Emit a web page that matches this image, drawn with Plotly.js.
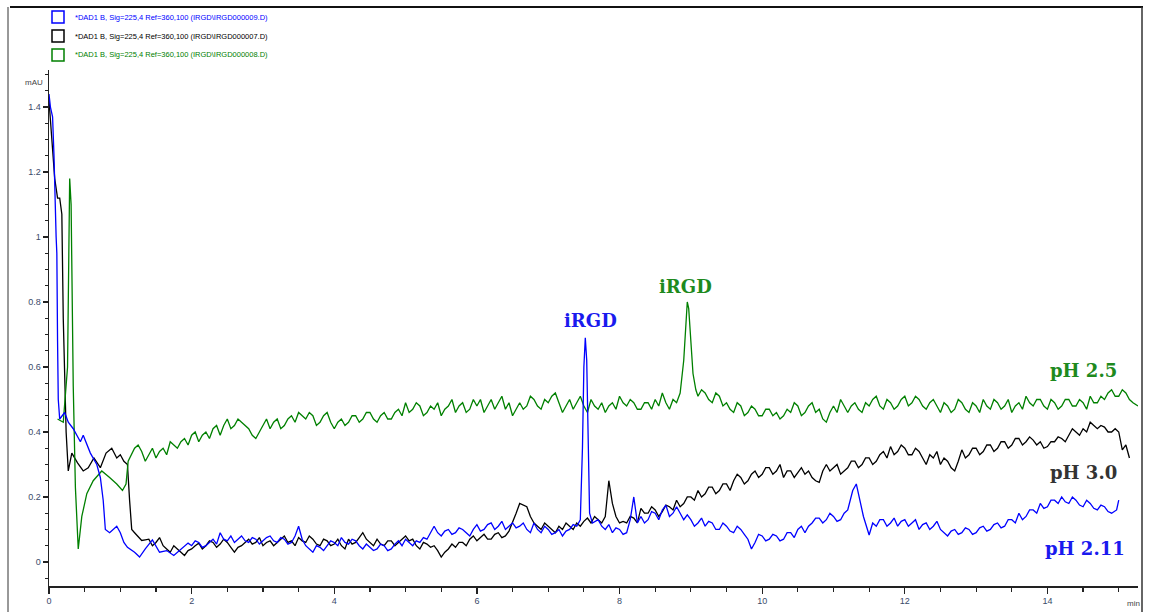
<!DOCTYPE html>
<html>
<head>
<meta charset="utf-8">
<script src="https://cdn.plot.ly/plotly-3.0.1.min.js"></script>
<style>html,body{margin:0;padding:0;background:#fff;}#chart{width:1153px;height:612px;}</style>
</head>
<body>
<div id="chart"></div>
<script>
// ---------- DATA ----------
const seriesNames = [
  "*DAD1 B, Sig=225,4 Ref=360,100 (IRGD\\IRGD000009.D)",
  "*DAD1 B, Sig=225,4 Ref=360,100 (IRGD\\IRGD000007.D)",
  "*DAD1 B, Sig=225,4 Ref=360,100 (IRGD\\IRGD000008.D)"
];
const peakLabels = ["iRGD", "iRGD"];
const phLabels = ["pH 2.5", "pH 3.0", "pH 2.11"];

// pH 2.11 (blue)
const blueT = [0,0.02,0.05,0.07,0.1,0.11,0.12,0.13,0.15,0.22,0.27,0.34,0.44,0.48,0.58,0.67,0.72,0.76,0.79,0.85,0.95,1.0,1.05,1.1,1.2,1.27,1.35,1.45,1.55,1.65,1.75,1.85,1.95,
  2.0,2.05,2.1,2.15,2.2,2.25,2.3,2.35,2.4,2.45,
  2.5,2.55,2.6,2.65,2.7,2.75,2.8,2.85,2.9,2.95,
  3.0,3.05,3.1,3.15,3.2,3.25,3.3,3.35,3.4,3.45,
  3.5,3.55,3.6,3.65,3.7,3.75,3.8,3.85,3.9,3.95,
  4.0,4.05,4.1,4.15,4.2,4.25,4.3,4.35,4.4,4.45,
  4.5,4.55,4.6,4.65,4.7,4.75,4.8,4.85,4.9,4.95,
  5.0,5.05,5.1,5.15,5.2,5.25,5.3,5.35,5.4,5.45,
  5.5,5.55,5.6,5.65,5.7,5.75,5.8,5.85,5.9,5.95,
  6.0,6.05,6.1,6.15,6.2,6.25,6.3,6.35,6.4,6.45,
  6.5,6.55,6.6,6.65,6.7,6.75,6.8,6.85,6.9,6.95,
  7.0,7.05,7.1,7.15,7.2,7.25,7.3,7.35,
  7.4,
  7.45,7.48,7.5,7.52,7.54,7.56,7.58,7.62,
  7.7,7.75,7.8,7.85,7.9,7.95,8.0,8.05,8.1,
  8.15,8.2,8.25,
  8.3,8.35,8.4,8.45,8.5,8.55,8.6,8.65,8.7,8.75,
  8.8,8.85,8.9,8.95,9.0,9.05,9.1,9.15,9.2,9.25,
  9.3,9.35,9.4,9.45,9.5,9.55,9.6,9.65,9.7,9.75,
  9.8,
  9.85,
  9.9,9.95,10.0,10.05,10.1,10.15,10.2,10.25,10.3,10.35,
  10.4,10.45,10.5,10.55,10.6,10.65,10.7,10.75,10.8,10.85,
  10.9,10.95,11.0,11.05,11.1,11.15,
  11.2,
  11.27,11.32,11.36,11.42,11.5,11.55,
  11.6,11.65,11.7,11.75,11.8,11.85,11.9,11.95,12.0,12.05,
  12.1,12.15,12.2,12.25,12.3,12.35,12.4,12.45,12.5,12.55,
  12.6,12.65,12.7,12.75,12.8,12.85,12.9,12.95,13.0,13.05,
  13.1,13.15,13.2,13.25,13.3,13.35,13.4,13.45,13.5,13.55,
  13.6,13.65,13.7,13.75,13.8,13.85,13.9,13.95,14.0,14.05,
  14.1,14.15,14.2,14.25,14.3,14.35,14.4,14.45,14.5,14.55,
  14.6,14.65,14.7,14.75,14.8,14.85,
  14.9,
  14.97,15.0];
const blueY = [1.44,1.40,1.37,1.25,1.0,0.95,0.68,0.50,0.44,0.46,0.43,0.41,0.37,0.39,0.335,0.30,0.26,0.19,0.10,0.09,0.11,0.09,0.06,0.045,0.03,0.015,0.04,0.068,0.03,0.035,0.02,0.04,0.058,
  0.05,0.065,0.06,0.045,0.05,0.06,0.07,0.055,0.09,0.07,
  0.065,0.08,0.06,0.07,0.08,0.065,0.06,0.075,0.07,0.055,
  0.065,0.075,0.08,0.065,0.06,0.075,0.07,0.055,0.06,0.08,
  0.11,0.07,0.05,0.04,0.03,0.05,0.045,0.035,0.05,0.065,
  0.06,0.05,0.075,0.06,0.055,0.07,0.065,0.05,0.04,0.055,
  0.045,0.035,0.04,0.055,0.05,0.035,0.04,0.055,0.065,0.05,
  0.07,0.06,0.05,0.065,0.06,0.075,0.07,0.09,0.11,0.09,
  0.08,0.095,0.10,0.085,0.09,0.105,0.10,0.09,0.08,0.10,
  0.115,0.095,0.10,0.115,0.12,0.10,0.11,0.125,0.10,0.11,
  0.12,0.105,0.11,0.12,0.10,0.09,0.12,0.10,0.09,0.11,
  0.10,0.085,0.09,0.10,0.08,0.095,0.10,0.115,
  0.11,
  0.13,0.35,0.60,0.69,0.62,0.35,0.15,0.12,
  0.13,0.11,0.10,0.115,0.09,0.105,0.10,0.085,0.09,
  0.13,0.20,0.12,
  0.14,0.12,0.13,0.155,0.15,0.13,0.16,0.175,0.14,0.15,
  0.17,0.15,0.13,0.145,0.13,0.11,0.12,0.135,0.11,0.125,
  0.12,0.10,0.10,0.12,0.11,0.095,0.09,0.11,0.10,0.085,
  0.07,
  0.04,
  0.06,0.085,0.08,0.065,0.07,0.085,0.08,0.065,0.07,0.09,
  0.09,0.075,0.10,0.11,0.09,0.11,0.12,0.135,0.135,0.12,
  0.13,0.15,0.14,0.125,0.13,0.15,
  0.16,
  0.22,0.24,0.20,0.14,0.083,0.12,
  0.11,0.13,0.13,0.11,0.12,0.135,0.11,0.125,0.13,0.11,
  0.12,0.13,0.10,0.115,0.12,0.10,0.11,0.125,0.10,0.09,
  0.08,0.095,0.10,0.085,0.09,0.105,0.10,0.085,0.09,0.105,
  0.11,0.095,0.10,0.115,0.12,0.105,0.11,0.13,0.13,0.12,
  0.15,0.13,0.14,0.16,0.16,0.15,0.18,0.165,0.17,0.19,
  0.19,0.18,0.20,0.185,0.18,0.20,0.19,0.175,0.17,0.19,
  0.18,0.165,0.16,0.175,0.17,0.155,
  0.15,
  0.16,0.19];

// pH 3.0 (black)
const blackT = [0,0.04,0.08,0.12,0.15,0.18,0.2,0.24,0.27,0.32,0.4,0.48,0.55,0.63,0.72,0.8,0.88,0.95,1.0,1.05,1.1,1.13,1.16,1.2,1.3,
  1.35,
  1.4,1.45,1.5,1.55,1.6,1.65,1.7,1.75,1.8,1.85,
  1.9,1.95,2.0,2.05,2.1,2.15,2.2,2.25,2.3,2.35,
  2.4,2.45,2.5,2.55,2.6,2.65,2.7,2.75,2.8,2.85,
  2.9,2.95,3.0,3.05,3.1,3.15,3.2,3.25,3.3,3.35,
  3.4,3.45,3.5,3.55,3.6,3.65,3.7,3.75,3.8,3.85,
  3.9,3.95,4.0,4.05,4.1,4.15,4.2,4.25,4.3,4.35,
  4.4,4.45,4.5,4.55,4.6,4.65,4.7,4.75,4.8,4.85,
  4.9,4.95,5.0,5.05,5.1,5.15,5.2,5.25,5.3,5.35,
  5.4,5.45,5.5,5.55,5.6,5.65,5.7,5.75,5.8,5.85,
  5.9,5.95,6.0,6.05,6.1,6.15,6.2,6.25,6.3,6.35,
  6.4,6.45,6.5,
  6.55,6.6,6.65,6.7,6.75,6.8,6.85,6.9,6.95,7.0,
  7.05,7.1,7.15,7.2,7.25,7.3,7.35,7.4,7.45,7.5,
  7.55,7.6,7.65,7.7,7.75,7.8,7.85,7.9,7.95,8.0,8.05,
  8.1,8.15,8.2,8.25,8.3,8.35,8.4,8.45,8.5,8.55,
  8.6,8.65,8.7,8.75,8.8,8.85,8.9,8.95,9.0,9.05,
  9.1,9.15,9.2,9.25,9.3,9.35,9.4,9.45,9.5,9.55,
  9.6,9.65,9.7,9.75,9.8,9.85,9.9,9.95,10.0,10.05,
  10.1,10.15,10.2,10.25,10.3,10.35,10.4,10.45,10.5,10.55,
  10.6,10.65,10.7,10.75,10.8,10.85,10.9,10.95,11.0,11.05,
  11.1,11.15,11.2,11.25,11.3,11.35,11.4,11.45,11.5,11.55,
  11.6,11.65,11.7,11.75,11.8,11.85,11.9,11.95,12.0,12.05,
  12.1,12.15,12.2,12.25,12.3,12.35,12.4,12.45,12.5,12.55,
  12.6,12.65,12.7,12.75,12.8,12.85,12.9,12.95,13.0,13.05,
  13.1,13.15,13.2,13.25,13.3,13.35,13.4,13.45,13.5,13.55,
  13.6,13.65,13.7,13.75,13.8,13.85,13.9,13.95,14.0,14.05,
  14.1,14.15,14.2,14.25,14.3,14.35,14.4,14.45,14.5,14.55,
  14.6,14.65,14.7,14.75,14.8,14.85,14.9,14.95,
  15.0,15.05,15.1,15.15];
const blackY = [1.42,1.30,1.18,1.12,1.12,1.07,0.75,0.40,0.28,0.335,0.305,0.28,0.29,0.32,0.29,0.335,0.35,0.32,0.33,0.31,0.30,0.19,0.10,0.09,0.066,
  0.068,
  0.07,0.05,0.06,0.075,0.05,0.04,0.03,0.05,0.04,0.03,
  0.02,0.035,0.04,0.05,0.058,0.04,0.05,0.065,0.06,0.045,
  0.055,0.07,0.06,0.045,0.03,0.045,0.05,0.06,0.07,0.055,
  0.06,0.075,0.05,0.06,0.065,0.05,0.06,0.07,0.08,0.06,
  0.065,0.05,0.075,0.065,0.06,0.08,0.07,0.055,0.05,0.07,
  0.065,0.05,0.055,0.07,0.05,0.04,0.07,0.055,0.06,0.075,
  0.09,0.07,0.06,0.05,0.07,0.055,0.05,0.065,0.065,0.05,
  0.06,0.07,0.08,0.065,0.07,0.05,0.04,0.06,0.055,0.045,
  0.05,0.035,0.015,0.03,0.04,0.055,0.045,0.06,0.06,0.05,
  0.07,0.08,0.065,0.075,0.085,0.07,0.07,0.085,0.09,0.075,
  0.08,0.095,0.12,
  0.15,0.18,0.175,0.17,0.14,0.12,0.11,0.10,0.12,0.11,
  0.10,0.09,0.11,0.10,0.12,0.11,0.10,0.12,0.11,0.125,
  0.135,0.12,0.14,0.13,0.12,0.14,0.25,0.18,0.14,0.12,0.125,
  0.12,0.14,0.135,0.12,0.165,0.15,0.15,0.17,0.16,0.14,
  0.155,0.175,0.17,0.16,0.19,0.17,0.18,0.20,0.20,0.19,
  0.22,0.20,0.21,0.23,0.23,0.21,0.22,0.24,0.24,0.22,
  0.25,0.27,0.26,0.24,0.25,0.27,0.28,0.26,0.27,0.29,
  0.29,0.27,0.28,0.30,0.26,0.28,0.28,0.26,0.275,0.29,
  0.27,0.28,0.26,0.25,0.245,0.28,0.30,0.28,0.29,0.30,
  0.27,0.28,0.29,0.31,0.31,0.29,0.30,0.32,0.32,0.30,
  0.31,0.33,0.34,0.32,0.355,0.33,0.34,0.36,0.35,0.33,
  0.33,0.35,0.34,0.32,0.30,0.33,0.32,0.34,0.30,0.32,
  0.31,0.29,0.28,0.31,0.345,0.32,0.33,0.35,0.35,0.33,
  0.34,0.36,0.36,0.34,0.35,0.37,0.37,0.35,0.36,0.38,
  0.38,0.36,0.37,0.385,0.375,0.36,0.37,0.35,0.355,0.37,
  0.37,0.385,0.38,0.37,0.39,0.41,0.40,0.39,0.41,0.40,
  0.43,0.42,0.41,0.42,0.415,0.40,0.40,0.41,
  0.40,0.345,0.36,0.32];

// pH 2.5 (green)
const greenT = [0.12,0.2,0.26,0.29,0.31,0.34,0.37,0.41,0.46,0.53,0.62,0.74,0.85,0.95,1.03,1.08,1.11,1.2,
  1.25,
  1.3,1.35,1.4,1.45,1.5,1.55,1.6,1.65,1.7,1.75,
  1.8,1.85,1.9,1.95,2.0,2.05,2.1,2.15,2.2,2.25,
  2.3,2.35,2.4,2.45,2.5,2.55,2.6,2.65,2.7,2.75,
  2.8,2.85,2.9,2.95,3.0,3.05,3.1,3.15,3.2,3.25,
  3.3,3.35,3.4,3.45,3.5,3.55,3.6,3.65,3.7,3.75,
  3.8,3.85,3.9,3.95,4.0,4.05,4.1,4.15,4.2,4.25,
  4.3,4.35,4.4,4.45,4.5,4.55,4.6,4.65,4.7,4.75,
  4.8,4.85,4.9,4.95,5.0,5.05,5.1,5.15,5.2,5.25,
  5.3,5.35,5.4,5.45,5.5,5.55,5.6,5.65,5.7,5.75,
  5.8,5.85,5.9,5.95,6.0,6.05,6.1,6.15,6.2,6.25,
  6.3,6.35,6.4,6.45,6.5,6.55,6.6,6.65,6.7,6.75,
  6.8,6.85,6.9,6.95,7.0,7.05,7.1,7.15,7.2,7.25,
  7.3,7.35,7.4,7.45,7.5,7.55,7.6,7.65,7.7,7.75,
  7.8,7.85,7.9,7.95,8.0,8.05,8.1,8.15,8.2,8.25,
  8.3,8.35,8.4,8.45,8.5,8.55,8.6,8.65,8.7,8.75,
  8.8,
  8.85,8.9,8.93,8.95,8.97,9.0,9.03,9.07,9.1,9.15,
  9.2,9.25,9.3,9.35,9.4,9.45,9.5,9.55,9.6,9.65,
  9.7,9.75,9.8,9.85,9.9,9.95,10.0,10.05,10.1,10.15,
  10.2,10.25,10.3,10.35,10.4,10.45,10.5,10.55,10.6,10.65,
  10.7,10.75,10.8,10.85,10.9,10.95,11.0,11.05,11.1,11.15,
  11.2,11.25,11.3,11.35,11.4,11.45,11.5,11.55,11.6,11.65,
  11.7,11.75,11.8,11.85,11.9,11.95,12.0,12.05,12.1,12.15,
  12.2,12.25,12.3,12.35,12.4,12.45,12.5,12.55,12.6,12.65,
  12.7,12.75,12.8,12.85,12.9,12.95,13.0,13.05,13.1,13.15,
  13.2,13.25,13.3,13.35,13.4,13.45,13.5,13.55,13.6,13.65,
  13.7,13.75,13.8,13.85,13.9,13.95,14.0,14.05,14.1,14.15,
  14.2,14.25,14.3,14.35,14.4,14.45,14.5,14.55,14.6,14.65,
  14.7,14.75,14.8,14.85,14.9,14.95,15.0,15.05,15.1,15.15,
  15.2,15.27];
const greenY = [0.44,0.43,0.6,1.18,1.10,0.54,0.23,0.04,0.14,0.21,0.25,0.28,0.26,0.24,0.22,0.24,0.31,0.35,
  0.36,
  0.34,0.31,0.33,0.35,0.32,0.34,0.35,0.33,0.37,0.36,
  0.35,0.37,0.38,0.36,0.39,0.40,0.37,0.39,0.40,0.38,
  0.41,0.42,0.39,0.42,0.44,0.41,0.42,0.44,0.43,0.42,
  0.41,0.39,0.38,0.40,0.42,0.44,0.41,0.43,0.44,0.41,
  0.42,0.44,0.45,0.43,0.46,0.45,0.44,0.46,0.45,0.42,
  0.43,0.45,0.46,0.43,0.41,0.43,0.44,0.42,0.43,0.45,
  0.45,0.43,0.44,0.46,0.46,0.44,0.43,0.45,0.46,0.44,
  0.44,0.46,0.47,0.45,0.49,0.46,0.47,0.49,0.48,0.45,
  0.46,0.48,0.47,0.49,0.45,0.47,0.48,0.50,0.46,0.48,
  0.49,0.46,0.47,0.50,0.48,0.50,0.46,0.48,0.50,0.47,
  0.49,0.51,0.47,0.49,0.45,0.47,0.49,0.47,0.48,0.51,
  0.50,0.48,0.47,0.50,0.49,0.51,0.52,0.49,0.46,0.48,
  0.50,0.47,0.49,0.51,0.48,0.46,0.50,0.48,0.47,0.49,
  0.46,0.48,0.49,0.47,0.51,0.49,0.48,0.50,0.49,0.47,
  0.47,0.49,0.49,0.47,0.50,0.48,0.52,0.49,0.47,0.50,
  0.49,
  0.52,0.62,0.74,0.80,0.78,0.68,0.58,0.53,0.51,0.53,
  0.52,0.50,0.49,0.52,0.51,0.48,0.49,0.47,0.46,0.49,
  0.48,0.45,0.46,0.48,0.47,0.45,0.45,0.47,0.47,0.45,
  0.46,0.44,0.45,0.47,0.46,0.49,0.48,0.45,0.46,0.48,
  0.49,0.46,0.47,0.44,0.43,0.46,0.48,0.46,0.50,0.48,
  0.46,0.48,0.49,0.47,0.46,0.49,0.48,0.50,0.51,0.48,
  0.47,0.50,0.49,0.47,0.48,0.50,0.51,0.48,0.49,0.51,
  0.50,0.48,0.47,0.49,0.50,0.48,0.46,0.49,0.48,0.46,
  0.47,0.50,0.49,0.47,0.46,0.49,0.48,0.46,0.50,0.48,
  0.47,0.50,0.49,0.47,0.48,0.50,0.46,0.48,0.49,0.47,
  0.51,0.49,0.48,0.50,0.50,0.48,0.47,0.50,0.49,0.47,
  0.48,0.50,0.50,0.48,0.48,0.50,0.49,0.47,0.51,0.49,
  0.49,0.51,0.50,0.52,0.53,0.51,0.51,0.53,0.52,0.50,
  0.49,0.48];

const seriesColors = ["#0000ff", "#000000", "#008000"];

// ---------- LAYOUT HELPERS ----------
const W = 1153, H = 612, ML = 49, MR = 15, MT = 70, MB = 26;
const PW = W - ML - MR, PH = H - MT - MB;
const px = x => (x - ML) / PW;
const py = y => (H - MB - y) / PH;

const seriesList = [
  {x: blackT, y: blackY, name: seriesNames[1], color: seriesColors[1]},
  {x: greenT, y: greenY, name: seriesNames[2], color: seriesColors[2]},
  {x: blueT, y: blueY, name: seriesNames[0], color: seriesColors[0]}
];
const traces = seriesList.map(s => ({
  type: 'scatter', mode: 'lines', x: s.x, y: s.y, name: s.name,
  line: {color: s.color, width: 1.3}, hoverinfo: 'skip'
}));
const mismatch = seriesList.filter(s => s.x.length !== s.y.length).map(s => s.name + ' ' + s.x.length + '/' + s.y.length);

const shapes = [
  {type:'line', xref:'paper', yref:'paper', x0:px(10), x1:px(1143), y0:py(7), y1:py(7), line:{color:'#111', width:2}},
  {type:'line', xref:'paper', yref:'paper', x0:px(8), x1:px(8), y0:py(7), y1:py(640), line:{color:'#333', width:1}},
  {type:'line', xref:'paper', yref:'paper', x0:px(1142), x1:px(1142), y0:py(7), y1:py(640), line:{color:'#333', width:1.5}}
];
const annotations = [];
const legendRows = [17, 36, 55];
seriesNames.forEach((n, i) => {
  shapes.push({type:'rect', xref:'paper', yref:'paper', x0:px(52), x1:px(64), y0:py(legendRows[i]-6), y1:py(legendRows[i]+6),
    line:{color:seriesColors[i], width:1.5}, fillcolor:'rgba(0,0,0,0)'});
  annotations.push({xref:'paper', yref:'paper', x:px(73), y:py(legendRows[i]), xanchor:'left', yanchor:'middle',
    text:n, showarrow:false, font:{family:'Liberation Sans Narrow, Arial Narrow, sans-serif', size:7.5, color:seriesColors[i]}});
});
const bigFont = (c) => ({family:'DejaVu Serif, serif', size:18, color:c, weight:'bold'});
annotations.push(
  {x:7.59, y:0.742, xref:'x', yref:'y', text:'<b>'+peakLabels[0]+'</b>', showarrow:false, font:bigFont('#1a1aee')},
  {x:8.93, y:0.849, xref:'x', yref:'y', text:'<b>'+peakLabels[1]+'</b>', showarrow:false, font:bigFont('#1e8a1e')},
  {x:14.5, y:0.588, xref:'x', yref:'y', text:'<b>'+phLabels[0]+'</b>', showarrow:false, font:bigFont('#1e8a1e')},
  {x:14.5, y:0.274, xref:'x', yref:'y', text:'<b>'+phLabels[1]+'</b>', showarrow:false, font:bigFont('#333333')},
  {x:14.53, y:0.04, xref:'x', yref:'y', text:'<b>'+phLabels[2]+'</b>', showarrow:false, font:bigFont('#1a1aee')},
  {xref:'paper', yref:'paper', x:px(34), y:py(82), text:'mAU', showarrow:false, xanchor:'center', yanchor:'middle',
    font:{family:'Liberation Sans Narrow, sans-serif', size:8, color:'#444'}},
  {xref:'paper', yref:'paper', x:px(1133), y:py(603), text:'min', showarrow:false, xanchor:'center', yanchor:'middle',
    font:{family:'Liberation Sans Narrow, sans-serif', size:8, color:'#444'}}
);
if (mismatch.length) {
  annotations.push({xref:'paper', yref:'paper', x:0.5, y:0.95, text:'MISMATCH ' + mismatch.join(' | '), showarrow:false, font:{size:14, color:'red'}});
}

const tickFont = {family:'Liberation Sans Narrow, Arial Narrow, sans-serif', size:9, color:'#3a4a6a'};
const layout = {
  width: W, height: H,
  margin: {l: ML, r: MR, t: MT, b: MB, pad: 0},
  paper_bgcolor: '#fff', plot_bgcolor: '#fff',
  showlegend: false,
  xaxis: {range:[0, 15.27], showgrid:false, zeroline:false, showline:true, linecolor:'#222', linewidth:1.5,
    ticks:'outside', ticklen:6, tickwidth:1.3, tickcolor:'#222', dtick:2, tick0:0, tickfont:tickFont,
    minor:{dtick:0.5, ticks:'outside', ticklen:4, tickwidth:1.2, tickcolor:'#222', showgrid:false}},
  yaxis: {range:[-0.074, 1.514], showgrid:false, zeroline:false, showline:true, linecolor:'#222', linewidth:1.5,
    ticks:'outside', ticklen:5, tickwidth:1.3, tickcolor:'#222', dtick:0.2, tick0:0, tickfont:tickFont,
    minor:{dtick:0.05, ticks:'outside', ticklen:3, tickwidth:1.2, tickcolor:'#222', showgrid:false}},
  shapes: shapes,
  annotations: annotations
};
Plotly.newPlot('chart', traces, layout, {staticPlot:true, displayModeBar:false});
</script>
</body>
</html>
